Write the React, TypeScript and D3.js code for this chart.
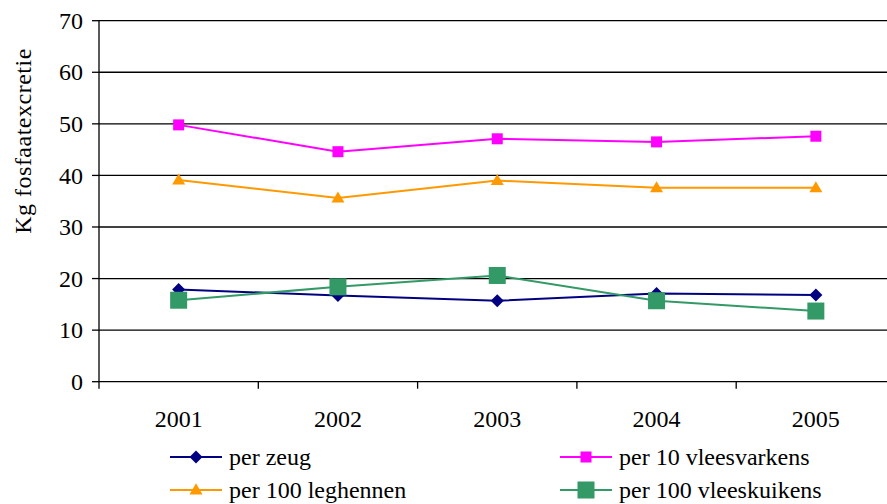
import React from 'react';
import * as d3 from 'd3';

const years = ['2001', '2002', '2003', '2004', '2005'];
const zeug = [17.9, 16.7, 15.7, 17.1, 16.8];
const vleesvarkens = [49.8, 44.6, 47.1, 46.5, 47.6];
const leghennen = [39.1, 35.6, 39.0, 37.6, 37.6];
const vleeskuikens = [15.8, 18.4, 20.6, 15.7, 13.7];
const yTicks = [0, 10, 20, 30, 40, 50, 60, 70];

const series = [
    {name: 'per zeug', values: zeug, color: '#000080', marker: 'diamond', size: 13},
    {name: 'per 10 vleesvarkens', values: vleesvarkens, color: '#FF00FF', marker: 'square', size: 11},
    {name: 'per 100 leghennen', values: leghennen, color: '#FF9900', marker: 'triangle', size: 13},
    {name: 'per 100 vleeskuikens', values: vleeskuikens, color: '#339966', marker: 'square', size: 17},
];

const W = 887;
const H = 504;
const left = 99;
const band = 159.3;
const top = 20.7;
const bottom = 381.7;
const font = "'Liberation Serif', 'DejaVu Serif', serif";

function Marker({type, x, y, size, color}: {type: string, x: number, y: number, size: number, color: string}) {
    const h = size / 2;
    if (type === 'diamond') {
        return <path d={`M${x},${y - h}L${x + h},${y}L${x},${y + h}L${x - h},${y}Z`} fill={color}/>;
    }
    if (type === 'triangle') {
        const th = size * 0.85;
        return <path d={`M${x},${y - th * 0.6}L${x + h},${y + th * 0.4}L${x - h},${y + th * 0.4}Z`} fill={color}/>;
    }
    return <rect x={x - h} y={y - h} width={size} height={size} fill={color}/>;
}

export default function App() {
    const x = d3.scaleBand().domain(years).range([left, left + band * years.length]);
    const y = d3.scaleLinear().domain([0, 70]).range([bottom, top]);
    const cx = (d: string) => (x(d) as number) + x.bandwidth() / 2;

    const line = d3.line<number>()
        .x((_, i) => cx(years[i]))
        .y(d => y(d));

    const legendPos = [
        {lx: 170, ly: 457},
        {lx: 560, ly: 457},
        {lx: 170, ly: 490},
        {lx: 560, ly: 490},
    ];

    const txt = {fontFamily: font, fontSize: '24px'};

    return (
        <svg width={W} height={H} style={{position: 'absolute', left: 0, top: 0, background: '#fff'}}>
            {/* gridlines */}
            {yTicks.filter(t => t > 0).map(t => (
                <line key={t} x1={left} x2={W} y1={y(t)} y2={y(t)} stroke="#000" strokeWidth={1.3}/>
            ))}
            {/* axes */}
            <line x1={left} x2={left} y1={top} y2={bottom + 7} stroke="#000" strokeWidth={1.3}/>
            <line x1={left} x2={W} y1={bottom} y2={bottom} stroke="#000" strokeWidth={1.3}/>
            {yTicks.map(t => (
                <g key={t}>
                    <line x1={left - 7} x2={left} y1={y(t)} y2={y(t)} stroke="#000" strokeWidth={1.3}/>
                    <text x={83} y={y(t)} dy="0.34em" textAnchor="end" style={txt} fill="#000">{t}</text>
                </g>
            ))}
            {years.map((yr, i) => (
                <g key={yr}>
                    {i > 0 && <line x1={x(yr)} x2={x(yr)} y1={bottom} y2={bottom + 7} stroke="#000" strokeWidth={1.3}/>}
                    <text x={cx(yr)} y={427} textAnchor="middle" style={txt} fill="#000">{yr}</text>
                </g>
            ))}
            <text transform={`translate(31,141) rotate(-90)`} textAnchor="middle" style={{...txt, letterSpacing: '0.5px'}}
                  fill="#000">Kg fosfaatexcretie</text>

            {/* series */}
            {series.map(s => (
                <g key={s.name}>
                    <path d={line(s.values) as string} fill="none" stroke={s.color} strokeWidth={2}/>
                    {s.values.map((v, i) => (
                        <Marker key={i} type={s.marker} x={cx(years[i])} y={y(v)} size={s.size} color={s.color}/>
                    ))}
                </g>
            ))}

            {/* legend */}
            {series.map((s, i) => {
                const {lx, ly} = legendPos[i];
                return (
                    <g key={s.name}>
                        <line x1={lx} x2={lx + 52} y1={ly} y2={ly} stroke={s.color} strokeWidth={2}/>
                        <Marker type={s.marker} x={lx + 26} y={ly} size={s.size} color={s.color}/>
                        <text x={lx + 59} y={ly} dy="0.34em" style={txt} fill="#000">{s.name}</text>
                    </g>
                );
            })}
        </svg>
    );
}
